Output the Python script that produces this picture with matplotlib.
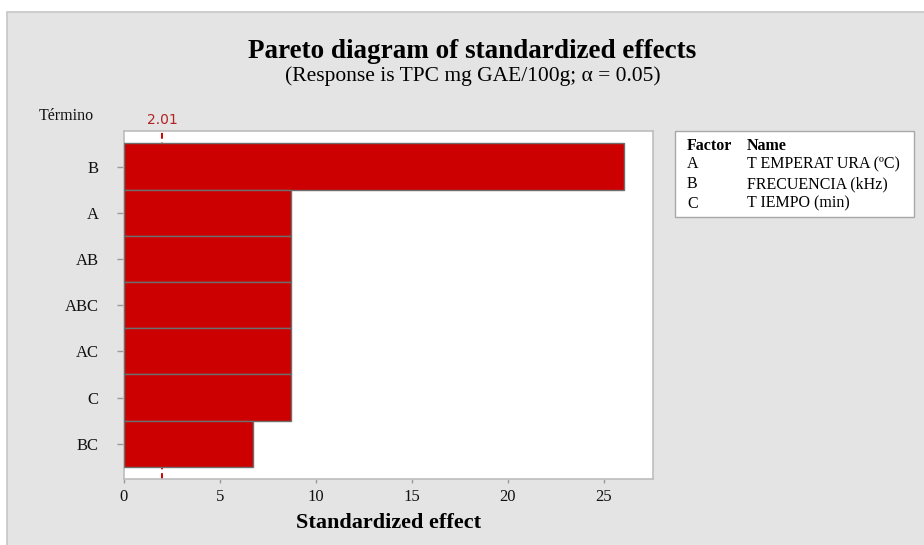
import matplotlib
matplotlib.use("Agg")
import matplotlib.pyplot as plt
from matplotlib.patches import Rectangle

terms = ["B", "A", "AB", "ABC", "AC", "C", "BC"]
effects = [26.02, 8.69, 8.69, 8.69, 8.69, 8.69, 6.73]
threshold = 2.01
xticks = [0, 5, 10, 15, 20, 25]
factors = ["A", "B", "C"]
factor_names = ["T EMPERAT URA (\u00baC)", "FRECUENCIA (kHz)", "T IEMPO (min)"]

W, H = 924, 545
fig = plt.figure(figsize=(W / 100, H / 100), dpi=100)
fig.patch.set_facecolor("white")

# gray panel
panel = Rectangle((7 / W, -0.01), 1 - 7 / W + 0.01, 1 - 12 / H + 0.01, transform=fig.transFigure,
                  facecolor="#e4e4e4", edgecolor="#c6c6c6", linewidth=1.2, zorder=-10)
fig.patches.append(panel)

serif = ["Liberation Serif", "DejaVu Serif"]

left, right = 123.8 / W, 653.3 / W
top, bottom = 131 / H, 479.3 / H
ax = fig.add_axes([left, 1 - bottom, right - left, bottom - top])
ax.set_facecolor("white")

ypos = list(range(len(terms)))
ax.barh(ypos, effects, height=1.0, color="#cc0000", edgecolor="#6e6e6e",
        linewidth=1.0, zorder=3)
ax.axvline(threshold, color="#cc0000", linestyle=(0, (3, 2)), linewidth=1.4, zorder=2)

ax.set_xlim(0, 27.57)
ax.set_ylim(len(terms) - 1 + 0.77, -0.77)
ax.set_yticks(ypos)
ax.set_yticklabels(terms, fontfamily=serif, fontsize=12)
ax.set_xticks(xticks)
ax.set_xticklabels([str(t) for t in xticks], fontfamily=serif, fontsize=12)
ax.tick_params(axis="both", colors="#9a9a9a", width=1, labelcolor="#111111")
ax.tick_params(axis="y", length=5, pad=13)
ax.tick_params(axis="x", length=3, pad=4)
for s in ax.spines.values():
    s.set_color("#bdbdbd")
    s.set_linewidth(1.2)

ax.set_xlabel("Standardized effect", fontfamily=serif, fontsize=16,
              fontweight="bold", labelpad=6)

# threshold label
ax.text(threshold, 1.012, f"{threshold:.2f}", transform=ax.get_xaxis_transform(),
        ha="center", va="bottom", color="#b22222", fontsize=10,
        fontfamily="DejaVu Sans")

fig.text(66 / W, 1 - 116 / H, "T\u00e9rmino", fontfamily=serif, fontsize=11.5,
         ha="center", va="center", color="#111111")

fig.text(472 / W, 1 - 51 / H, "Pareto diagram of standardized effects",
         fontfamily=serif, fontsize=19.5, fontweight="bold", ha="center", va="center")
fig.text(473 / W, 1 - 76.5 / H, "(Response is TPC mg GAE/100g; \u03b1 = 0.05)",
         fontfamily=serif, fontsize=15.5, ha="center", va="center")

# legend box
lx0, ly0, lx1, ly1 = 675, 131, 914, 217
box = Rectangle((lx0 / W, 1 - ly1 / H), (lx1 - lx0) / W, (ly1 - ly0) / H,
                transform=fig.transFigure, facecolor="white", edgecolor="#a8a8a8",
                linewidth=1.0, zorder=5)
fig.patches.append(box)
fig.text(687 / W, 1 - 146 / H, "Factor", fontfamily=serif, fontsize=11.5,
         fontweight="bold", va="center", zorder=6)
fig.text(747 / W, 1 - 146 / H, "Name", fontfamily=serif, fontsize=11.5,
         fontweight="bold", va="center", zorder=6)
for i, (f, n) in enumerate(zip(factors, factor_names)):
    yy = 168.5 + i * 19.5
    fig.text(687 / W, 1 - yy / H, f, fontfamily=serif, fontsize=11.5,
             va="baseline", zorder=6)
    fig.text(747 / W, 1 - yy / H, n, fontfamily=serif, fontsize=11.5,
             va="baseline", zorder=6)

fig.savefig("out.png", dpi=100)
